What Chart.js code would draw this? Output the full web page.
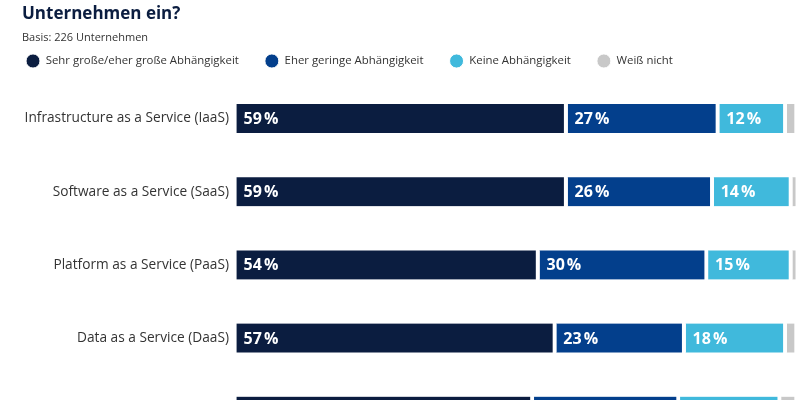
<!DOCTYPE html>
<html lang="de">
<head>
<meta charset="utf-8">
<script src="https://cdn.jsdelivr.net/npm/chart.js@4"></script>
<style>
  html, body { margin: 0; padding: 0; background: #fff; overflow: hidden; }
  #wrap { position: relative; width: 800px; height: 463px; }
</style>
</head>
<body>
<div id="wrap"><canvas id="chart"></canvas></div>
<script>
const titel = 'Unternehmen ein?';
const basis = 'Basis: 226 Unternehmen';

const kategorien = [
  'Infrastructure as a Service (IaaS)',
  'Software as a Service (SaaS)',
  'Platform as a Service (PaaS)',
  'Data as a Service (DaaS)',
  'Function as a Service (FaaS)'
];
const sehrGross = [59, 59, 54, 57, 53];
const eherGering = [27, 26, 30, 23, 26];
const keine = [12, 14, 15, 18, 18];
const weissNicht = [2, 1, 1, 2, 3];

const farben = ['#0b1d40', '#033f8c', '#40b9dc', '#c8c8c8'];

// Titel und Basis oben links
const kopfzeile = {
  id: 'kopfzeile',
  afterDraw(chart) {
    const ctx = chart.ctx;
    ctx.save();
    ctx.textAlign = 'left';
    ctx.textBaseline = 'alphabetic';
    ctx.fillStyle = '#0b1d40';
    ctx.font = "bold 17px 'Open Sans'";
    ctx.fillText(titel, 22, 19);
    ctx.fillStyle = '#333';
    ctx.font = "11px 'Open Sans'";
    ctx.fillText(basis, 22, 40.5);
    ctx.restore();
  }
};

// Prozentwerte in den Balken (nicht bei "Weiß nicht")
const werteLabels = {
  id: 'werteLabels',
  afterDatasetsDraw(chart) {
    const ctx = chart.ctx;
    ctx.save();
    ctx.font = "bold 16px 'Open Sans'";
    ctx.fillStyle = '#fff';
    ctx.textAlign = 'left';
    ctx.textBaseline = 'middle';
    chart.data.datasets.forEach((ds, i) => {
      if (i > 2) return;
      chart.getDatasetMeta(i).data.forEach((bar, j) => {
        const { base, y } = bar.getProps(['base', 'y'], true);
        ctx.fillText(ds.data[j] + '\u202F%', base + 7, y + 1);
      });
    });
    ctx.restore();
  }
};

function balken(label, werte, farbe) {
  return {
    label: label,
    data: werte,
    backgroundColor: farbe,
    borderColor: '#fff',
    borderWidth: { top: 0, right: 4, bottom: 0, left: 0 },
    borderSkipped: false,
    barThickness: 29
  };
}

new Chart(document.getElementById('chart'), {
  type: 'bar',
  data: {
    labels: kategorien,
    datasets: [
      balken('Sehr große/eher große Abhängigkeit', sehrGross, farben[0]),
      balken('Eher geringe Abhängigkeit', eherGering, farben[1]),
      balken('Keine Abhängigkeit', keine, farben[2]),
      balken('Weiß nicht', weissNicht, farben[3])
    ]
  },
  options: {
    indexAxis: 'y',
    responsive: true,
    maintainAspectRatio: false,
    animation: false,
    layout: { padding: { top: 29.3, left: 0, right: 2, bottom: 0 } },
    plugins: {
      legend: {
        position: 'top',
        align: 'start',
        labels: {
          usePointStyle: true,
          pointStyle: 'circle',
          pointStyleWidth: 14,
          boxHeight: 10,
          padding: 26,
          color: '#333',
          font: { family: "'Open Sans'", size: 11.4 }
        }
      },
      tooltip: { enabled: false }
    },
    scales: {
      x: {
        stacked: true,
        min: 0,
        max: 100,
        position: 'top',
        grid: { color: 'transparent', drawTicks: true, tickLength: 5.3 },
        border: { display: false },
        ticks: { display: false }
      },
      y: {
        stacked: true,
        grid: { display: false, drawTicks: false },
        border: { display: false },
        ticks: {
          padding: 7,
          color: '#333',
          font: { family: "'Open Sans'", size: 13.7 }
        },
        afterFit(scale) { scale.width = 236; }
      }
    }
  },
  plugins: [kopfzeile, werteLabels]
});
</script>
</body>
</html>
